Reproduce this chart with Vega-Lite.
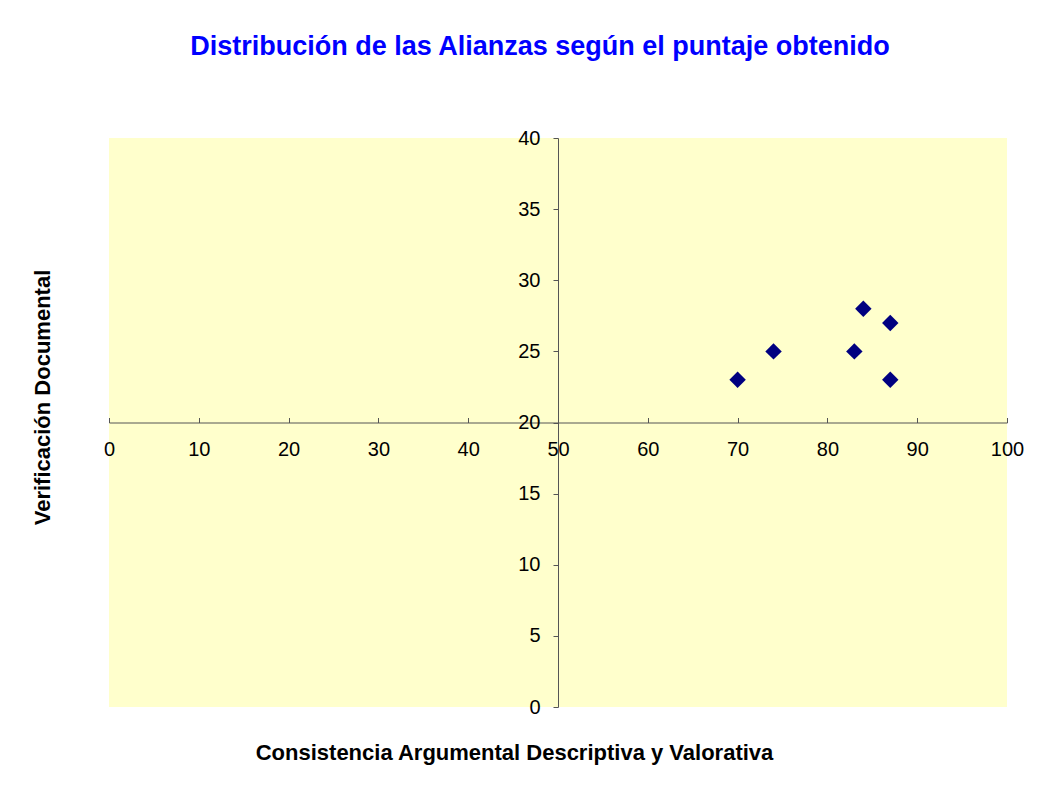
{
  "$schema": "https://vega.github.io/schema/vega-lite/v6.json",
  "autosize": "none",
  "width": 898,
  "height": 569,
  "padding": {"left": 109, "top": 138, "right": 44, "bottom": 82},
  "background": "white",
  "title": {
    "text": "Distribución de las Alianzas según el puntaje obtenido",
    "font": "Liberation Sans",
    "fontSize": 27,
    "fontWeight": "bold",
    "color": "#0000FF",
    "anchor": "middle",
    "frame": "group",
    "dx": -18,
    "offset": 67
  },
  "config": {
    "view": {"fill": "#FFFFCC", "stroke": null},
    "axis": {
      "labelFont": "Liberation Sans",
      "labelFontSize": 20,
      "labelColor": "black",
      "titleFont": "Liberation Sans",
      "titleFontSize": 22,
      "titleFontWeight": "bold",
      "titleColor": "black",
      "domainColor": "#555555",
      "tickColor": "#555555",
      "grid": false
    }
  },
  "data": {
    "values": [
      {"consistencia": 70, "verificacion": 23},
      {"consistencia": 74, "verificacion": 25},
      {"consistencia": 83, "verificacion": 25},
      {"consistencia": 84, "verificacion": 28},
      {"consistencia": 87, "verificacion": 27},
      {"consistencia": 87, "verificacion": 23}
    ]
  },
  "mark": {"type": "point", "shape": "diamond", "filled": true, "size": 270, "color": "#000080", "opacity": 1},
  "encoding": {
    "x": {
      "field": "consistencia",
      "type": "quantitative",
      "scale": {"domain": [0, 100], "nice": false, "zero": false},
      "axis": {
        "title": "Consistencia Argumental Descriptiva y Valorativa",
        "values": [0, 10, 20, 30, 40, 50, 60, 70, 80, 90, 100],
        "offset": -284.5,
        "tickSize": -5,
        "labelPadding": 22,
        "labelFlush": false,
        "labelOverlap": false,
        "titleX": 405,
        "titleY": 330,
        "titleBaseline": "middle",
        "titleAnchor": "middle"
      }
    },
    "y": {
      "field": "verificacion",
      "type": "quantitative",
      "scale": {"domain": [0, 40], "nice": false, "zero": false},
      "axis": {
        "title": "Verificación Documental",
        "values": [0, 5, 10, 15, 20, 25, 30, 35, 40],
        "offset": -449,
        "tickSize": 5,
        "labelPadding": 13,
        "labelFlush": false,
        "labelOverlap": false,
        "titleX": -516,
        "titleY": 259,
        "titleAngle": -90,
        "titleBaseline": "middle",
        "titleAnchor": "middle"
      }
    }
  }
}
